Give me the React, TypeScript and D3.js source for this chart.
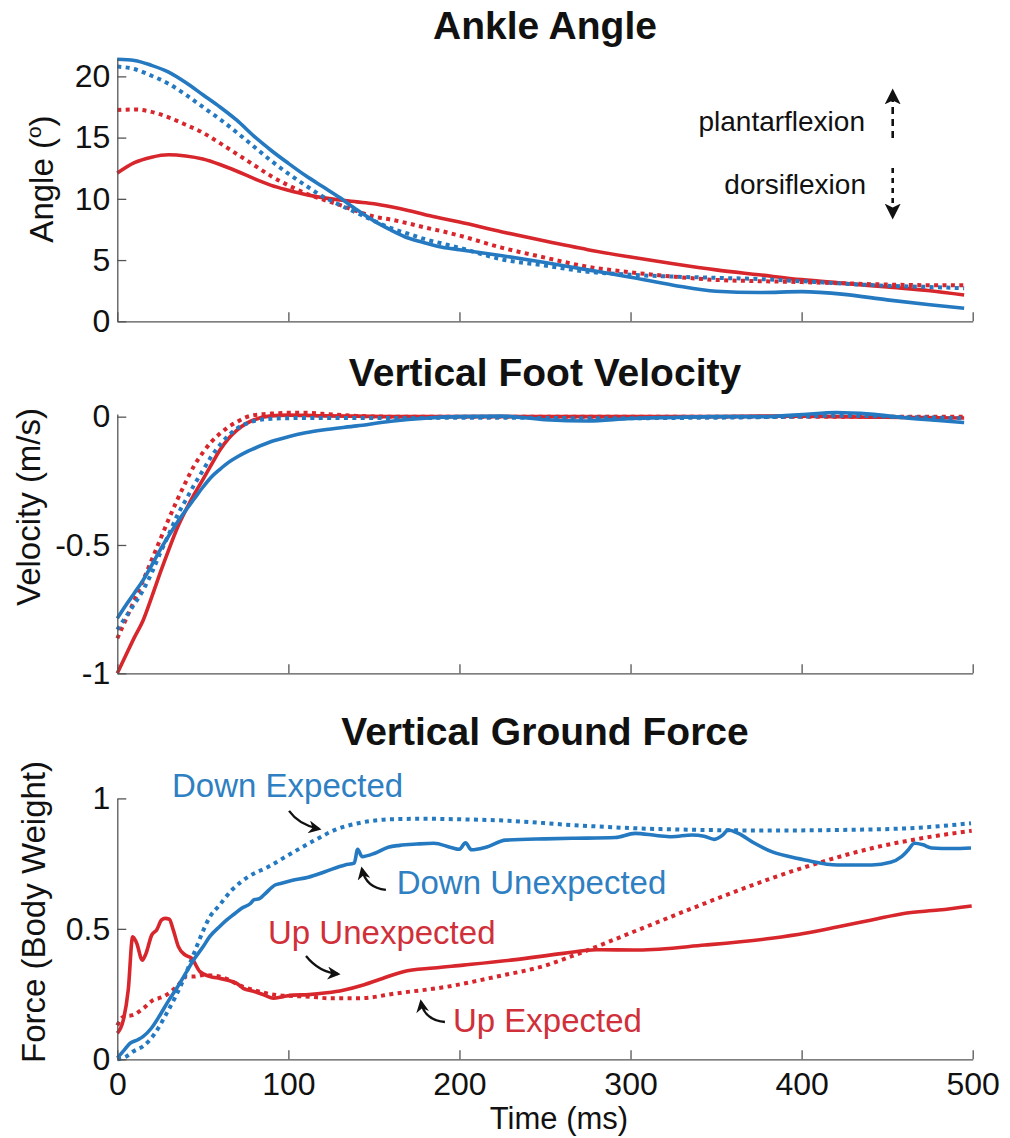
import React, { useRef, useEffect } from "react";
import * as d3 from "d3";

const W = 1010;
const H = 1138;
const FONT = "'Liberation Sans', Arial, Helvetica, sans-serif";
const BLUE = "#2479c0";
const RED = "#d7262c";
const BLUE_TEXT = "#2f80c2";
const RED_TEXT = "#d0303a";

const timeTicks = [0, 100, 200, 300, 400, 500];

// ankle angle (deg)
const angleTime = [0, 10, 20, 30, 40, 50, 60, 70, 80, 90, 100, 110, 120, 130, 140, 150, 160, 170, 180, 190, 200, 225, 250, 275, 300, 325, 350, 375, 400, 425, 450, 475, 495];
const angleDownUnexp = [21.4, 21.3, 20.9, 20.35, 19.5, 18.5, 17.5, 16.4, 15.1, 13.95, 12.9, 11.9, 11.0, 10.1, 9.1, 8.2, 7.45, 6.8, 6.4, 6.05, 5.85, 5.35, 4.8, 4.2, 3.6, 2.95, 2.45, 2.35, 2.42, 2.2, 1.75, 1.35, 1.06];
const angleDownExp = [20.8, 20.6, 20.05, 19.4, 18.5, 17.5, 16.5, 15.4, 14.25, 13.1, 12.05, 11.1, 10.2, 9.5, 8.85, 8.2, 7.6, 7.15, 6.7, 6.35, 6.0, 5.05, 4.55, 4.05, 3.8, 3.65, 3.55, 3.45, 3.27, 3.07, 2.9, 2.8, 2.7];
const angleUpUnexp = [12.1, 12.95, 13.4, 13.6, 13.5, 13.25, 12.8, 12.25, 11.65, 11.1, 10.7, 10.35, 10.1, 9.9, 9.75, 9.6, 9.35, 9.05, 8.7, 8.4, 8.1, 7.3, 6.55, 5.85, 5.25, 4.7, 4.2, 3.8, 3.4, 3.1, 2.8, 2.5, 2.15];
const angleUpExp = [17.25, 17.3, 17.1, 16.65, 16.05, 15.4, 14.55, 13.65, 12.75, 11.85, 11.1, 10.45, 9.95, 9.5, 9.0, 8.55, 8.3, 8.0, 7.65, 7.35, 7.0, 6.0, 5.2, 4.45, 4.0, 3.65, 3.38, 3.28, 3.2, 3.1, 3.0, 2.95, 2.95];

// vertical foot velocity (m/s)
const velTime = [0, 5, 10, 15, 20, 25, 30, 35, 40, 45, 50, 55, 60, 65, 70, 75, 80, 90, 100, 110, 120, 140, 160, 180, 200, 225, 250, 275, 300, 325, 350, 375, 400, 420, 440, 460, 480, 495];
const velDownUnexp = [-0.786, -0.735, -0.687, -0.638, -0.58, -0.52, -0.465, -0.412, -0.365, -0.32, -0.275, -0.235, -0.205, -0.178, -0.157, -0.139, -0.124, -0.097, -0.078, -0.063, -0.052, -0.036, -0.018, -0.006, 0, 0.002, -0.012, -0.017, -0.007, -0.003, 0, 0, 0.008, 0.016, 0.01, -0.004, -0.015, -0.023];
const velDownExp = [-0.83, -0.78, -0.73, -0.677, -0.61, -0.533, -0.46, -0.386, -0.325, -0.265, -0.21, -0.155, -0.11, -0.073, -0.046, -0.028, -0.017, -0.008, -0.006, -0.005, -0.005, -0.005, -0.005, -0.005, -0.004, -0.004, -0.005, -0.006, -0.006, -0.005, -0.004, -0.002, 0, 0.004, 0.002, -0.002, -0.004, -0.006];
const velUpUnexp = [-1.0, -0.93, -0.86, -0.795, -0.705, -0.61, -0.52, -0.435, -0.365, -0.302, -0.245, -0.187, -0.13, -0.085, -0.052, -0.028, -0.012, 0.003, 0.006, 0.005, 0.003, 0.002, 0, 0, 0, 0, 0, 0, 0, 0, 0, 0.002, 0.002, 0, -0.002, -0.003, -0.004, -0.005];
const velUpExp = [-0.864, -0.79, -0.715, -0.64, -0.56, -0.48, -0.4, -0.325, -0.255, -0.19, -0.14, -0.098, -0.066, -0.04, -0.02, -0.003, 0.006, 0.012, 0.015, 0.015, 0.011, 0.003, 0, 0, 0, 0, 0, 0, 0, 0, 0, 0, 0, 0, 0, 0, 0, 0];

// vertical ground force (body weight)
const forceDownUnexpTime = [0, 4, 7.4, 12, 15, 20, 25, 30, 35, 40, 44, 50, 54, 60, 64, 68, 72.7, 78, 80, 83, 86, 92.2, 96, 101.9, 111.6, 121.4, 133.1, 138.5, 140.5, 143, 150.6, 158.4, 165, 175, 185, 195, 200, 203.5, 207, 215, 227, 250, 266, 291, 302.6, 315, 324, 336, 343, 349, 354, 357, 363, 372, 382.5, 392, 402, 421, 441, 452, 458.4, 462, 466, 471, 476, 488, 499];
const forceDownUnexp = [0.005, 0.035, 0.061, 0.075, 0.087, 0.12, 0.17, 0.225, 0.275, 0.33, 0.375, 0.43, 0.47, 0.51, 0.534, 0.555, 0.579, 0.598, 0.612, 0.615, 0.632, 0.668, 0.675, 0.685, 0.698, 0.719, 0.745, 0.752, 0.805, 0.777, 0.79, 0.813, 0.82, 0.825, 0.828, 0.812, 0.805, 0.83, 0.803, 0.812, 0.84, 0.845, 0.847, 0.85, 0.866, 0.858, 0.853, 0.86, 0.855, 0.843, 0.86, 0.879, 0.866, 0.83, 0.796, 0.778, 0.764, 0.745, 0.745, 0.755, 0.777, 0.8, 0.828, 0.822, 0.81, 0.808, 0.81];
const forceDownExpTime = [0, 5, 9.3, 15, 19, 24, 28.8, 34, 38.6, 42, 46.4, 50, 54.2, 59, 67, 76.6, 88.3, 101.9, 115.5, 127.2, 140.9, 160.4, 180, 200, 226.6, 265.6, 304.5, 343.5, 382.5, 421.4, 460.6, 480, 499];
const forceDownExp = [0, 0.01, 0.03, 0.05, 0.074, 0.12, 0.176, 0.24, 0.304, 0.36, 0.432, 0.49, 0.547, 0.585, 0.649, 0.7, 0.738, 0.79, 0.84, 0.879, 0.905, 0.92, 0.922, 0.92, 0.915, 0.898, 0.885, 0.879, 0.877, 0.879, 0.885, 0.893, 0.905];
const forceUpUnexpTime = [0, 3.5, 6.4, 9, 11.3, 14.6, 16.8, 20.1, 23, 25.9, 28, 30.4, 32.7, 35.7, 39.6, 43.5, 48.3, 54.2, 60, 64, 70, 73.6, 80, 86, 91.2, 97, 102.9, 112, 122.4, 132, 143.8, 155, 167.2, 185, 202.2, 231.4, 260.7, 280, 304.5, 343.5, 382.5, 402, 421.4, 441, 460.6, 480, 499.4];
const forceUpUnexp = [0.1, 0.15, 0.266, 0.47, 0.446, 0.38, 0.406, 0.476, 0.496, 0.534, 0.54, 0.537, 0.496, 0.432, 0.4, 0.387, 0.336, 0.317, 0.31, 0.304, 0.29, 0.272, 0.26, 0.246, 0.234, 0.24, 0.246, 0.248, 0.255, 0.265, 0.285, 0.31, 0.336, 0.35, 0.361, 0.381, 0.406, 0.42, 0.419, 0.438, 0.464, 0.483, 0.508, 0.534, 0.56, 0.572, 0.588];
const forceUpExpTime = [0, 3.5, 9.3, 15.2, 21, 26.9, 34.7, 40.6, 45, 50.3, 60, 73.6, 83.4, 93.2, 112.6, 124.3, 141.8, 163.3, 192.5, 221.7, 251, 265.6, 304.5, 343.5, 382.5, 412, 441, 470, 499.4];
const forceUpExp = [0.13, 0.163, 0.17, 0.195, 0.227, 0.24, 0.278, 0.317, 0.317, 0.323, 0.317, 0.278, 0.259, 0.246, 0.24, 0.234, 0.234, 0.253, 0.278, 0.317, 0.361, 0.395, 0.496, 0.598, 0.694, 0.757, 0.809, 0.847, 0.876];

// annotation labels of the force panel, in data units (ms, body weight)
const forceNotes = [
    { text: "Down Expected", color: BLUE_TEXT, at: [32, 1.004], arrow: [[100.4, 0.952], [106.2, 0.898], [117.9, 0.883]] },
    { text: "Down Unexpected", color: BLUE_TEXT, at: [163.3, 0.634], arrow: [[157, 0.649], [145.3, 0.657], [143, 0.729]] },
    { text: "Up Unexpected", color: RED_TEXT, at: [88.1, 0.442], arrow: [[110.3, 0.396], [117.9, 0.334], [129, 0.327]] },
    { text: "Up Expected", color: RED_TEXT, at: [196.2, 0.105], arrow: [[191.5, 0.143], [179.3, 0.151], [177.5, 0.22]] },
];

const panels = [
    {
        title: "Ankle Angle", titleY: 39, yLabel: "Angle", labelX: 53, labelY: 179,
        domain: [0, 21.5], range: [321.3, 58], yTicks: [0, 5, 10, 15, 20], xLabels: false,
        series: [
            { t: angleTime, v: angleUpUnexp, color: RED, dotted: false },
            { t: angleTime, v: angleUpExp, color: RED, dotted: true },
            { t: angleTime, v: angleDownExp, color: BLUE, dotted: true },
            { t: angleTime, v: angleDownUnexp, color: BLUE, dotted: false },
        ],
    },
    {
        title: "Vertical Foot Velocity", titleY: 386, yLabel: "Velocity (m/s)", labelX: 40, labelY: 507,
        domain: [-1, 0.01], range: [673.3, 414.1], yTicks: [-1, -0.5, 0], xLabels: false,
        series: [
            { t: velTime, v: velUpUnexp, color: RED, dotted: false },
            { t: velTime, v: velUpExp, color: RED, dotted: true },
            { t: velTime, v: velDownExp, color: BLUE, dotted: true },
            { t: velTime, v: velDownUnexp, color: BLUE, dotted: false },
        ],
    },
    {
        title: "Vertical Ground Force", titleY: 745, yLabel: "Force (Body Weight)", labelX: 45, labelY: 912,
        domain: [0, 1], range: [1059.3, 798.4], yTicks: [0, 0.5, 1], xLabels: true,
        series: [
            { t: forceUpExpTime, v: forceUpExp, color: RED, dotted: true },
            { t: forceDownExpTime, v: forceDownExp, color: BLUE, dotted: true },
            { t: forceUpUnexpTime, v: forceUpUnexp, color: RED, dotted: false },
            { t: forceDownUnexpTime, v: forceDownUnexp, color: BLUE, dotted: false },
        ],
    },
];

const App = () => {
    const plot = useRef<SVGSVGElement>(null);

    useEffect(() => {
        const svg = d3.select(plot.current);
        svg.selectAll("*").remove();

        const defs = svg.append("defs");
        defs.append("marker")
            .attr("id", "head")
            .attr("viewBox", "0 0 10 10")
            .attr("refX", 8).attr("refY", 5)
            .attr("markerUnits", "userSpaceOnUse")
            .attr("markerWidth", 14).attr("markerHeight", 13)
            .attr("orient", "auto")
            .append("path")
            .attr("d", "M0,0 L10,5 L0,10 L3,5 Z")
            .attr("fill", "#111");
        defs.append("marker")
            .attr("id", "vhead")
            .attr("viewBox", "0 0 10 10")
            .attr("refX", 9).attr("refY", 5)
            .attr("markerUnits", "userSpaceOnUse")
            .attr("markerWidth", 16).attr("markerHeight", 17)
            .attr("orient", "auto")
            .append("path")
            .attr("d", "M0,0 L10,5 L0,10 L2.5,5 Z")
            .attr("fill", "#111");

        const x = d3.scaleLinear().domain([0, 500]).range([117.3, 972.7]);

        panels.forEach(p => {
            const y = d3.scaleLinear().domain(p.domain).range(p.range);
            const g = svg.append("g");

            // title
            g.append("text")
                .attr("x", 545).attr("y", p.titleY)
                .attr("text-anchor", "middle")
                .attr("font-size", 39).attr("font-weight", "bold")
                .attr("fill", "#111")
                .text(p.title);

            // lines
            p.series.forEach(s => {
                const line = d3.line<number>()
                    .x((d, i) => x(s.t[i]))
                    .y(d => y(d))
                    .curve(d3.curveMonotoneX);
                g.append("path")
                    .attr("d", line(s.v))
                    .attr("fill", "none")
                    .attr("stroke", s.color)
                    .attr("stroke-width", s.dotted ? 4 : 3.6)
                    .attr("stroke-dasharray", s.dotted ? "4 4.4" : null)
                    .attr("stroke-linejoin", "round");
            });

            // axes (box off, ticks inside)
            const xAxis = d3.axisBottom(x)
                .tickValues(timeTicks)
                .tickSizeInner(-9).tickSizeOuter(0)
                .tickPadding(13)
                .tickFormat(p.xLabels ? (d => String(d)) : (() => ""));
            g.append("g")
                .attr("transform", `translate(0, ${p.range[0]})`)
                .call(xAxis)
                .call(a => a.selectAll("text").attr("font-size", 32).attr("fill", "#111").attr("font-family", FONT))
                .call(a => a.selectAll("path, line").attr("stroke", "#555").attr("stroke-width", 1.3));

            const yAxis = d3.axisLeft(y)
                .tickValues(p.yTicks)
                .tickSizeInner(-9).tickSizeOuter(0)
                .tickPadding(7)
                .tickFormat(d => String(d));
            g.append("g")
                .attr("transform", `translate(${x(0)}, 0)`)
                .call(yAxis)
                .call(a => a.selectAll("text").attr("font-size", 32).attr("fill", "#111").attr("font-family", FONT))
                .call(a => a.selectAll("path, line").attr("stroke", "#555").attr("stroke-width", 1.3));

            // y label
            const yl = g.append("text")
                .attr("transform", `translate(${p.labelX}, ${p.labelY}) rotate(-90)`)
                .attr("text-anchor", "middle")
                .attr("font-size", 33)
                .attr("fill", "#111");
            if (p.yLabel === "Angle") {
                yl.append("tspan").text("Angle (");
                yl.append("tspan").attr("font-size", 21).attr("dy", -12).text("o");
                yl.append("tspan").attr("dy", 12).text(")");
            } else {
                yl.text(p.yLabel);
            }

            if (p.xLabels) {
                g.append("text")
                    .attr("x", 559).attr("y", 1129)
                    .attr("text-anchor", "middle")
                    .attr("font-size", 31).attr("fill", "#111")
                    .text("Time (ms)");

                forceNotes.forEach(n => {
                    g.append("text")
                        .attr("x", x(n.at[0])).attr("y", y(n.at[1]))
                        .attr("font-size", 33)
                        .attr("fill", n.color)
                        .text(n.text);
                    const [a, c, b] = n.arrow;
                    g.append("path")
                        .attr("d", `M${x(a[0])},${y(a[1])} Q${x(c[0])},${y(c[1])} ${x(b[0])},${y(b[1])}`)
                        .attr("fill", "none")
                        .attr("stroke", "#111")
                        .attr("stroke-width", 2.3)
                        .attr("marker-end", "url(#head)");
                });
            }

            if (p.yLabel === "Angle") {
                // plantarflexion / dorsiflexion direction hints
                const ax = 892.7;
                g.append("text").attr("x", 865).attr("y", 131)
                    .attr("text-anchor", "end").attr("font-size", 28).attr("fill", "#111")
                    .text("plantarflexion");
                g.append("text").attr("x", 866).attr("y", 194)
                    .attr("text-anchor", "end").attr("font-size", 28).attr("fill", "#111")
                    .text("dorsiflexion");
                g.append("line")
                    .attr("x1", ax).attr("y1", 138).attr("x2", ax).attr("y2", 90)
                    .attr("stroke", "#111").attr("stroke-width", 2.6)
                    .attr("stroke-dasharray", "7 5")
                    .attr("marker-end", "url(#vhead)");
                g.append("line")
                    .attr("x1", ax).attr("y1", 168).attr("x2", ax).attr("y2", 218)
                    .attr("stroke", "#111").attr("stroke-width", 2.6)
                    .attr("stroke-dasharray", "5 5")
                    .attr("marker-end", "url(#vhead)");
            }
        });
    }, []);

    return (
        <svg
            ref={plot}
            width={W}
            height={H}
            fontFamily={FONT}
            style={{ position: "absolute", left: 0, top: 0, background: "#fff" }}
        />
    );
};

export default App;
